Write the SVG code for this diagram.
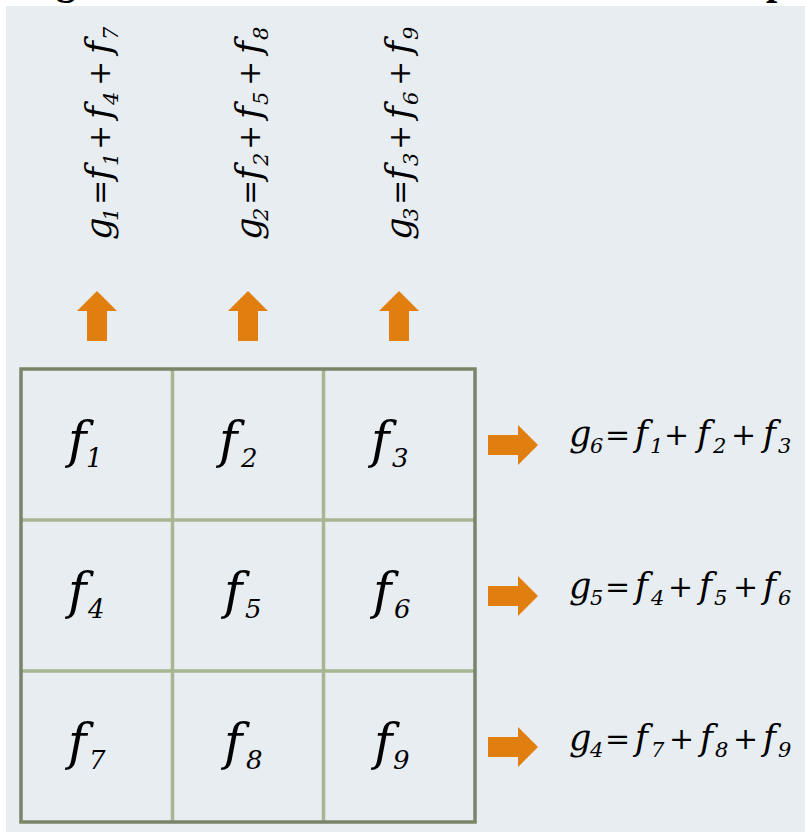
<svg xmlns="http://www.w3.org/2000/svg" width="805" height="832" viewBox="0 0 805 832">
<style>
.m{font-family:"DejaVu Serif","Liberation Serif",serif;font-style:italic;fill:#000}
.op{font-style:normal;font-size:30px}
.cf{font-size:50px}
.cs{font-size:26px}
.ff{font-size:35px}
.fs{font-size:21px}
.arrow{fill:#e07f10}
.ttl{font-family:"Liberation Serif",serif;font-weight:bold;font-size:40px;fill:#000}
</style>
<defs>
<path id="up" class="arrow" d="M0,-25 L20,-5 L10,-5 L10,25 L-10,25 L-10,-5 L-20,-5 Z"/>
<path id="right" class="arrow" d="M25,0 L5,20 L5,10 L-25,10 L-25,-10 L5,-10 L5,-20 Z"/>
</defs>
<rect width="805" height="832" fill="#ffffff"/>
<text class="ttl" x="56" y="-6">g</text>
<text class="ttl" x="766" y="-6">p</text>
<rect x="6" y="6" width="799" height="826" fill="#e8edf1"/>

<g id="grid">
<line x1="172.5" y1="368" x2="172.5" y2="823" stroke="#a7b692" stroke-width="3.5"/>
<line x1="323.5" y1="368" x2="323.5" y2="823" stroke="#a7b692" stroke-width="3.5"/>
<line x1="20" y1="520" x2="476" y2="520" stroke="#a7b692" stroke-width="3.5"/>
<line x1="20" y1="671" x2="476" y2="671" stroke="#a7b692" stroke-width="3.5"/>
<rect x="21" y="369" width="454" height="453" fill="none" stroke="#7a8468" stroke-width="3.5"/>
</g>

<g id="f1"><text class="m"><tspan class="cf" x="68" y="457">f</tspan><tspan class="cs" x="86" y="467">1</tspan></text></g>
<g id="f2"><text class="m"><tspan class="cf" x="219" y="457">f</tspan><tspan class="cs" x="241" y="467">2</tspan></text></g>
<g id="f3"><text class="m"><tspan class="cf" x="371" y="457">f</tspan><tspan class="cs" x="392" y="467">3</tspan></text></g>
<g id="f4"><text class="m"><tspan class="cf" x="68" y="608">f</tspan><tspan class="cs" x="88" y="618">4</tspan></text></g>
<g id="f5"><text class="m"><tspan class="cf" x="224" y="608">f</tspan><tspan class="cs" x="245" y="618">5</tspan></text></g>
<g id="f6"><text class="m"><tspan class="cf" x="373" y="608">f</tspan><tspan class="cs" x="394" y="618">6</tspan></text></g>
<g id="f7"><text class="m"><tspan class="cf" x="68" y="759">f</tspan><tspan class="cs" x="89" y="769">7</tspan></text></g>
<g id="f8"><text class="m"><tspan class="cf" x="224" y="759">f</tspan><tspan class="cs" x="246" y="769">8</tspan></text></g>
<g id="f9"><text class="m"><tspan class="cf" x="374" y="759">f</tspan><tspan class="cs" x="393" y="769">9</tspan></text></g>

<g id="connectors">
<use href="#up" x="97" y="316"/>
<use href="#up" x="248" y="316"/>
<use href="#up" x="399" y="316"/>
<use href="#right" x="513" y="445"/>
<use href="#right" x="513" y="596"/>
<use href="#right" x="513" y="747"/>
</g>

<g id="g1"><text class="m" transform="translate(111,240) rotate(-90)"><tspan class="ff" x="0" y="0">g</tspan><tspan class="fs" x="19" y="7">1</tspan><tspan class="op" x="35" y="-1">=</tspan><tspan class="ff" x="60" y="0">f</tspan><tspan class="fs" x="74" y="7">1</tspan><tspan class="op" x="90" y="-1">+</tspan><tspan class="ff" x="121" y="0">f</tspan><tspan class="fs" x="135" y="7">4</tspan><tspan class="op" x="154" y="-1">+</tspan><tspan class="ff" x="186" y="0">f</tspan><tspan class="fs" x="200" y="7">7</tspan></text></g>
<g id="g2"><text class="m" transform="translate(261,240) rotate(-90)"><tspan class="ff" x="0" y="0">g</tspan><tspan class="fs" x="19" y="7">2</tspan><tspan class="op" x="35" y="-1">=</tspan><tspan class="ff" x="60" y="0">f</tspan><tspan class="fs" x="74" y="7">2</tspan><tspan class="op" x="90" y="-1">+</tspan><tspan class="ff" x="121" y="0">f</tspan><tspan class="fs" x="135" y="7">5</tspan><tspan class="op" x="154" y="-1">+</tspan><tspan class="ff" x="186" y="0">f</tspan><tspan class="fs" x="200" y="7">8</tspan></text></g>
<g id="g3"><text class="m" transform="translate(411,240) rotate(-90)"><tspan class="ff" x="0" y="0">g</tspan><tspan class="fs" x="19" y="7">3</tspan><tspan class="op" x="35" y="-1">=</tspan><tspan class="ff" x="60" y="0">f</tspan><tspan class="fs" x="74" y="7">3</tspan><tspan class="op" x="90" y="-1">+</tspan><tspan class="ff" x="121" y="0">f</tspan><tspan class="fs" x="135" y="7">6</tspan><tspan class="op" x="154" y="-1">+</tspan><tspan class="ff" x="186" y="0">f</tspan><tspan class="fs" x="200" y="7">9</tspan></text></g>

<g id="g6"><text class="m"><tspan class="ff" x="569" y="446">g</tspan><tspan class="fs" x="590" y="453">6</tspan><tspan class="op" x="605" y="445">=</tspan><tspan class="ff" x="635" y="446">f</tspan><tspan class="fs" x="650" y="453">1</tspan><tspan class="op" x="664" y="445">+</tspan><tspan class="ff" x="697" y="446">f</tspan><tspan class="fs" x="713" y="453">2</tspan><tspan class="op" x="731" y="445">+</tspan><tspan class="ff" x="763" y="446">f</tspan><tspan class="fs" x="778" y="453">3</tspan></text></g>
<g id="g5"><text class="m"><tspan class="ff" x="569" y="598">g</tspan><tspan class="fs" x="590" y="605">5</tspan><tspan class="op" x="605" y="597">=</tspan><tspan class="ff" x="635" y="598">f</tspan><tspan class="fs" x="651" y="605">4</tspan><tspan class="op" x="668" y="597">+</tspan><tspan class="ff" x="699" y="598">f</tspan><tspan class="fs" x="714" y="605">5</tspan><tspan class="op" x="733" y="597">+</tspan><tspan class="ff" x="763" y="598">f</tspan><tspan class="fs" x="778" y="605">6</tspan></text></g>
<g id="g4"><text class="m"><tspan class="ff" x="569" y="750">g</tspan><tspan class="fs" x="590" y="757">4</tspan><tspan class="op" x="605" y="749">=</tspan><tspan class="ff" x="635" y="750">f</tspan><tspan class="fs" x="651" y="757">7</tspan><tspan class="op" x="669" y="749">+</tspan><tspan class="ff" x="700" y="750">f</tspan><tspan class="fs" x="715" y="757">8</tspan><tspan class="op" x="733" y="749">+</tspan><tspan class="ff" x="763" y="750">f</tspan><tspan class="fs" x="778" y="757">9</tspan></text></g>
</svg>
